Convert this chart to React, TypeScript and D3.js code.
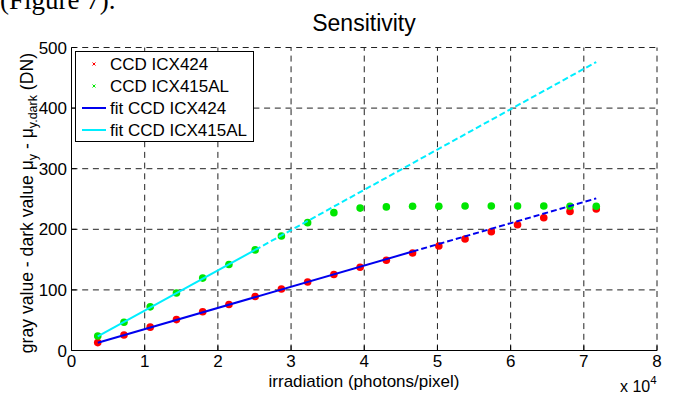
import { useEffect, useRef } from "react";
import * as d3 from "d3";

// measured points (irradiation in photons/pixel, gray value in DN)
const irradiation = [3585, 7170, 10755, 14340, 17925, 21510, 25095, 28680, 32265, 35850, 39435, 43020, 46605, 50190, 53775, 57360, 60945, 64530, 68115, 71700];
const grayICX424 = [13, 25.5, 38.5, 51, 64, 76, 89, 101.5, 113, 125.5, 137.5, 149, 161, 172.5, 184, 196, 207.5, 219, 229.5, 233.5];
const grayICX415AL = [24, 46.5, 72, 95, 119.5, 142, 166, 189, 211, 227.5, 235, 237, 238, 238, 238.5, 238.5, 238.5, 238.5, 238, 238];

// fit lines: start, end of fitted range, end of extrapolation
const fitX424 = [3585, 46605, 71700];
const fitY424 = [12.9, 163.3, 251];
const fitX415 = [3585, 25095, 71700];
const fitY415 = [23.5, 166, 476];

const xTicks = [0, 10000, 20000, 30000, 40000, 50000, 60000, 70000, 80000];
const xTickLabels = ["0", "1", "2", "3", "4", "5", "6", "7", "8"];
const yTicks = [0, 100, 200, 300, 400, 500];
const legendLabels = ["CCD ICX424", "CCD ICX415AL", "fit CCD ICX424", "fit CCD ICX415AL"];

const RED = "#ff0000";
const GREEN = "#00e600";
const BLUE = "#0000ee";
const CYAN = "#00eeff";
const FONT = "'Liberation Sans', Arial, sans-serif";

const App = () => {
    const svgRef = useRef<SVGSVGElement | null>(null);

    useEffect(() => {
        if (!svgRef.current) return;
        const svg = d3.select(svgRef.current);
        svg.selectAll("*").remove();

        const left = 71.5, right = 657, top = 47.5, bottom = 350.5;

        const x = d3.scaleLinear().domain([0, 80000]).range([left, right]);
        const y = d3.scaleLinear().domain([0, 500]).range([bottom, top]);

        // text above the figure (cut off page text)
        svg.append("text")
            .attr("x", 0).attr("y", 9)
            .attr("font-family", "'Liberation Serif', 'Times New Roman', serif")
            .attr("font-size", 27)
            .text("(Figure 7).");

        svg.append("text")
            .attr("x", 364).attr("y", 31)
            .attr("text-anchor", "middle")
            .attr("font-family", FONT).attr("font-size", 23)
            .text("Sensitivity");

        // grid
        const grid = svg.append("g")
            .attr("stroke", "#222").attr("stroke-width", 1)
            .attr("stroke-dasharray", "6,4.7");
        grid.selectAll("line.v").data(xTicks.slice(1)).enter().append("line")
            .attr("x1", (d) => x(d)).attr("x2", (d) => x(d))
            .attr("y1", bottom).attr("y2", top);
        grid.selectAll("line.h").data(yTicks.slice(1)).enter().append("line")
            .attr("x1", left).attr("x2", right)
            .attr("y1", (d) => y(d)).attr("y2", (d) => y(d));

        // axes
        const axes = svg.append("g").attr("stroke", "#000").attr("stroke-width", 1);
        axes.append("line").attr("x1", left).attr("x2", left).attr("y1", top).attr("y2", bottom);
        axes.append("line").attr("x1", left).attr("x2", right).attr("y1", bottom).attr("y2", bottom);
        axes.selectAll("line.xt").data(xTicks).enter().append("line")
            .attr("x1", (d) => x(d)).attr("x2", (d) => x(d))
            .attr("y1", bottom).attr("y2", bottom - 5);
        axes.selectAll("line.yt").data(yTicks).enter().append("line")
            .attr("x1", left).attr("x2", left + 5)
            .attr("y1", (d) => y(d)).attr("y2", (d) => y(d));

        svg.append("g").selectAll("text").data(xTicks).enter().append("text")
            .attr("x", (d) => x(d)).attr("y", 367)
            .attr("text-anchor", "middle")
            .attr("font-family", FONT).attr("font-size", 17)
            .text((_, i) => xTickLabels[i]);

        svg.append("g").selectAll("text").data(yTicks).enter().append("text")
            .attr("x", 67).attr("y", (d) => y(d))
            .attr("dy", "0.36em")
            .attr("text-anchor", "end")
            .attr("font-family", FONT).attr("font-size", 17)
            .text((d) => String(d));

        // axis labels
        svg.append("text")
            .attr("x", 364).attr("y", 386.5)
            .attr("text-anchor", "middle")
            .attr("font-family", FONT).attr("font-size", 17)
            .text("irradiation (photons/pixel)");

        const exp = svg.append("text")
            .attr("x", 620).attr("y", 391.5)
            .attr("font-family", FONT).attr("font-size", 16);
        exp.append("tspan").text("x 10");
        exp.append("tspan").attr("font-size", 11.5).attr("dy", -8).text("4");

        const yl = svg.append("text")
            .attr("transform", "translate(33,53) rotate(-90)")
            .attr("text-anchor", "end")
            .attr("font-family", FONT).attr("font-size", 17.6);
        yl.append("tspan").text("gray value - dark value \u03bc");
        yl.append("tspan").attr("font-size", 12.5).attr("dy", 4).text("y");
        yl.append("tspan").attr("dy", -4).text(" - \u03bc");
        yl.append("tspan").attr("font-size", 12.5).attr("dy", 4).text("y.dark");
        yl.append("tspan").attr("dy", -4).text(" (DN)");

        // points
        const pts = svg.append("g");
        pts.selectAll("circle.r").data(irradiation).enter().append("circle")
            .attr("cx", (d) => x(d)).attr("cy", (_, i) => y(grayICX424[i]))
            .attr("r", 3.8).attr("fill", RED);
        pts.selectAll("circle.g").data(irradiation).enter().append("circle")
            .attr("cx", (d) => x(d)).attr("cy", (_, i) => y(grayICX415AL[i]))
            .attr("r", 3.8).attr("fill", GREEN);

        // fit lines: solid over the fitted range, dashed extrapolation
        const path = d3.line<[number, number]>().x((d) => x(d[0])).y((d) => y(d[1]));
        const drawFit = (xs: number[], ys: number[], color: string) => {
            svg.append("path")
                .attr("d", path([[xs[0], ys[0]], [xs[1], ys[1]]]))
                .attr("stroke", color).attr("stroke-width", 2).attr("fill", "none");
            svg.append("path")
                .attr("d", path([[xs[1], ys[1]], [xs[2], ys[2]]]))
                .attr("stroke", color).attr("stroke-width", 2).attr("fill", "none")
                .attr("stroke-dasharray", "6,3");
        };
        drawFit(fitX424, fitY424, BLUE);
        drawFit(fitX415, fitY415, CYAN);

        // legend
        const lg = svg.append("g");
        lg.append("rect")
            .attr("x", 75.5).attr("y", 51.5).attr("width", 178).attr("height", 90)
            .attr("fill", "#fff").attr("stroke", "#000").attr("stroke-width", 1);
        const rowY = [64, 86, 108, 130];
        [RED, GREEN].forEach((c, i) => {
            lg.append("path")
                .attr("d", `M92.5,${rowY[i] - 1.5}l3,3M92.5,${rowY[i] + 1.5}l3,-3`)
                .attr("stroke", c).attr("stroke-width", 1);
        });
        [BLUE, CYAN].forEach((c, i) => {
            lg.append("line")
                .attr("x1", 82).attr("x2", 106)
                .attr("y1", rowY[i + 2]).attr("y2", rowY[i + 2])
                .attr("stroke", c).attr("stroke-width", 2);
        });
        lg.selectAll("text").data(legendLabels).enter().append("text")
            .attr("x", 110).attr("y", (_, i) => rowY[i])
            .attr("dy", "0.36em")
            .attr("font-family", FONT).attr("font-size", 17)
            .text((d) => d);
    }, []);

    return (
        <svg
            ref={svgRef}
            width={674}
            height={395}
            style={{ position: "absolute", left: 0, top: 0, background: "#fff" }}
        />
    );
};

export default App;
